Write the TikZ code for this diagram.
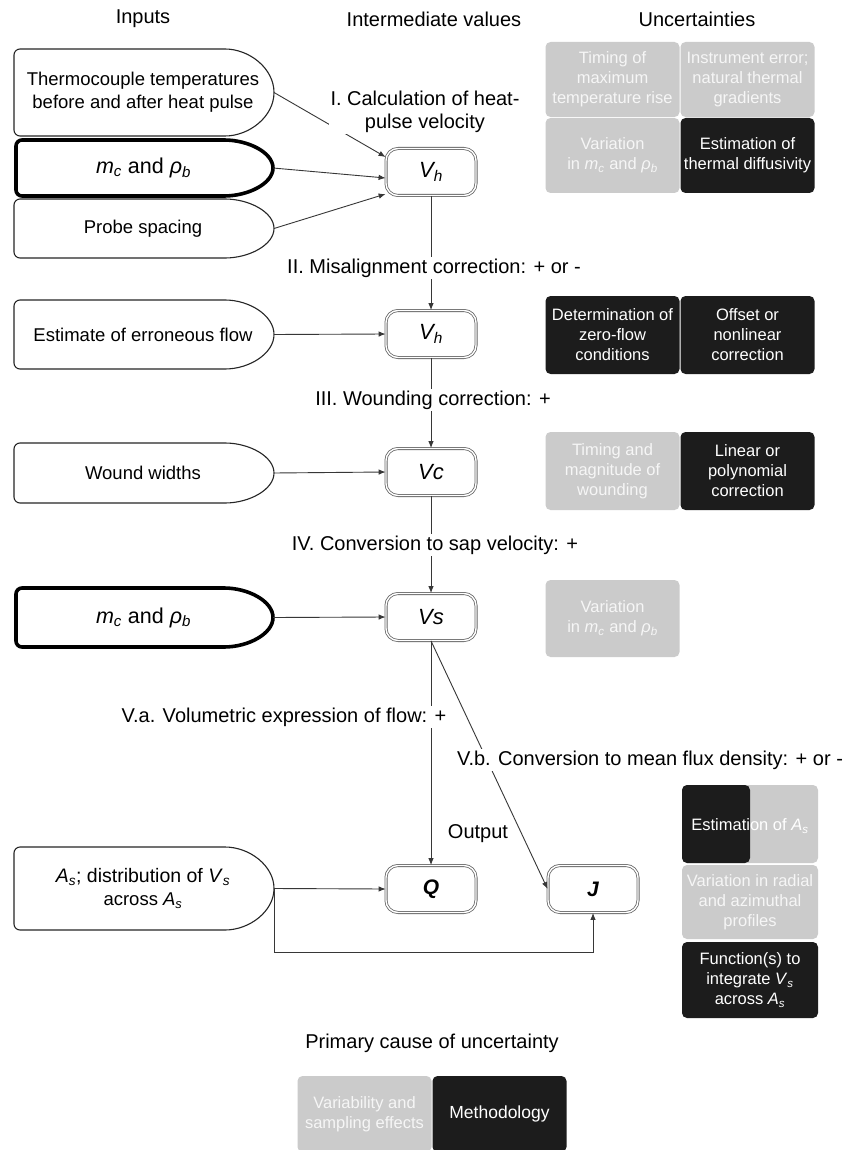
\documentclass[tikz,border=0pt]{standalone}
\usepackage{fontspec}
\setmainfont{Liberation Sans}
\usetikzlibrary{arrows.meta,calc}
\definecolor{ugray}{RGB}{203,203,203}
\definecolor{utext}{RGB}{246,246,246}
\definecolor{ublack}{RGB}{28,28,28}
\definecolor{uline}{RGB}{55,55,55}
\newcommand\mysub[2]{\textit{#1}\textsubscript{\textit{#2}}}
\newcommand\inshape[7][]{%
  \pgfmathsetmacro\myRy{(#6-#4)/2}%
  \pgfmathsetmacro\myYm{(#6+#4)/2}%
  \pgfmathsetmacro\myXa{#5-55}%
  \pgfmathsetmacro\myXm{(#3+#5)/2-1}%
  \draw[inbox,#1] (\myXa,#4) arc[start angle=-90,end angle=90,x radius=55,y radius=\myRy] -- (#3,#6) -- (#3,#4) -- cycle;
  \node[intext] (#2) at (\myXm,\myYm) {#7};
  \coordinate (#2-e) at (#5,\myYm);
}
\tikzset{
  x=1pt, y=-1pt,
  conn/.style={draw=uline, line width=0.9pt},
  arr/.style={conn, -{Latex[length=7pt,width=5.5pt]}},
  inbox/.style={draw=black!85, line width=1.1pt, rounded corners=6, fill=white},
  heavy/.style={line width=3.6pt, draw=black},
  intext/.style={font=\fontsize{18.5}{23}\selectfont, align=center},
  vbox/.style={draw=black!60, double=white, double distance=1.4pt, line width=0.8pt,
    rounded corners=12, minimum width=90pt, minimum height=47pt, inner sep=0pt,
    font=\fontsize{22}{24}\selectfont\itshape, fill=white},
  steplabel/.style={fill=white, inner sep=1.5pt, font=\fontsize{20}{23}\selectfont, align=center},
  header/.style={font=\fontsize{20}{24}\selectfont},
  ubox/.style={rounded corners=5, minimum width=134pt, minimum height=75pt, inner sep=0pt,
    align=center, font=\fontsize{16.5}{20}\selectfont},
  gbox/.style={ubox, fill=ugray, text=utext},
  bbox/.style={ubox, fill=ublack, text=white},
}
\begin{document}
\begin{tikzpicture}
\useasboundingbox (0,0) rectangle (843,1150);
\fill[white] (0,0) rectangle (843,1150);
% headers
\node[header] (hin) at (143,19) {Inputs};
\node[header] (hmid) at (434,19) {Intermediate values};
\node[header] (hunc) at (697,19) {Uncertainties};
% inputs
\inshape{in1}{14}{49}{274}{136}{Thermocouple temperatures\\before and after heat pulse}
\inshape[heavy]{in2}{16}{140}{273}{196}{\fontsize{21.5}{24}\selectfont\mysub{m}{c} and \mysub{ρ}{b}}
\inshape{in3}{14}{199}{274}{258}{Probe spacing}
\inshape{in4}{14}{300}{274}{369}{Estimate of erroneous flow}
\inshape{in5}{14}{443}{274}{503}{Wound widths}
\inshape[heavy]{in6}{16}{588}{273}{647}{\fontsize{21.5}{24}\selectfont\mysub{m}{c} and \mysub{ρ}{b}}
\inshape{in7}{14}{847}{274}{930}{\fontsize{19.5}{24}\selectfont\mysub{A}{s}; distribution of \mysub{V}{s}\\across \mysub{A}{s}}
% intermediate boxes
\node[vbox] (vh1) at (431,172) {V\textsubscript{h}};
\node[vbox] (vh2) at (431,334) {V\textsubscript{h}};
\node[vbox] (vc) at (431,472) {Vc};
\node[vbox] (vs) at (431,617) {Vs};
\node[vbox,font=\fontsize{21}{24}\selectfont\bfseries\itshape] (q) at (431,889) {Q};
\node[vbox,font=\fontsize{21}{24}\selectfont\bfseries\itshape] (j) at (593,889) {J};
% connectors
\draw[arr] (in1-e) -- ($(vh1.west)+(0,-15)$);
\draw[arr] (in2-e) -- ($(vh1.west)+(0,6)$);
\draw[arr] (in3-e) -- ($(vh1.west)+(0,22)$);
\draw[arr] (vh1.south) -- (vh2.north);
\draw[arr] (in4-e) -- (vh2.west);
\draw[arr] (vh2.south) -- (vc.north);
\draw[arr] (in5-e) -- (vc.west);
\draw[arr] (vc.south) -- (vs.north);
\draw[arr] (in6-e) -- (vs.west);
\draw[arr] (vs.south) -- (q.north);
\draw[arr] (vs.south) -- (j.west);
\draw[arr] (in7-e) -- (q.west);
\draw[arr] (in7-e) -- ++(0,64) -| (j.south);
% step labels
\node[steplabel] (l1) at (425,112) {I. Calculation of heat-\\pulse velocity};
\node[steplabel] (l2) at (434,268) {II. Misalignment correction: + or -};
\node[steplabel] (l3) at (433,400) {III. Wounding correction: +};
\node[steplabel] (l4) at (435,545) {IV. Conversion to sap velocity: +};
\node[steplabel] (l5) at (284,717) {V.a. Volumetric expression of flow: +};
\node[steplabel] (l6) at (650,760) {V.b. Conversion to mean flux density: + or -};
\node[steplabel,fill=none] (lout) at (478,834) {Output};
% uncertainties step I
\node[gbox] (u11) at (612.5,79.5) {Timing of\\maximum\\temperature rise};
\node[gbox] (u12) at (747.5,79.5) {Instrument error;\\natural thermal\\gradients};
\node[gbox] (u13) at (612.5,155.5) {Variation\\in \mysub{m}{c} and \mysub{ρ}{b}};
\node[bbox] (u14) at (747.5,155.5) {Estimation of\\thermal diffusivity};
% step II
\node[bbox,minimum height=78pt] (u21) at (612.5,335) {Determination of\\zero-flow\\conditions};
\node[bbox,minimum height=78pt] (u22) at (747.5,335) {Offset or\\nonlinear\\correction};
% step III
\node[gbox,minimum height=78pt] (u31) at (612.5,471) {Timing and\\magnitude of\\wounding};
\node[bbox,minimum height=78pt] (u32) at (747.5,471) {Linear or\\polynomial\\correction};
% step IV
\node[gbox,minimum height=77pt] (u41) at (612.5,618.5) {Variation\\in \mysub{m}{c} and \mysub{ρ}{b}};
% step V
\node[gbox,minimum width=136pt,minimum height=78pt] (u51) at (750,824) {};
\fill[ublack, rounded corners=5] (682,785) rectangle (750,863);
\node[ubox,text=white] (u51t) at (750,826) {Estimation of \mysub{A}{s}};
\node[gbox,minimum width=136pt,minimum height=74pt] (u52) at (750,902) {Variation in radial\\and azimuthal\\profiles};
\node[bbox,minimum width=136pt,minimum height=76pt] (u53) at (750,980) {Function(s) to\\integrate \mysub{V}{s}\\across \mysub{A}{s}};
% legend
\node[header] (leg) at (432,1043) {Primary cause of uncertainty};
\node[gbox,minimum height=76pt] (lg1) at (364.5,1114) {Variability and\\sampling effects};
\node[bbox,minimum height=76pt,font=\fontsize{17.5}{20}\selectfont] (lg2) at (499.5,1114) {Methodology};
\end{tikzpicture}
\end{document}
